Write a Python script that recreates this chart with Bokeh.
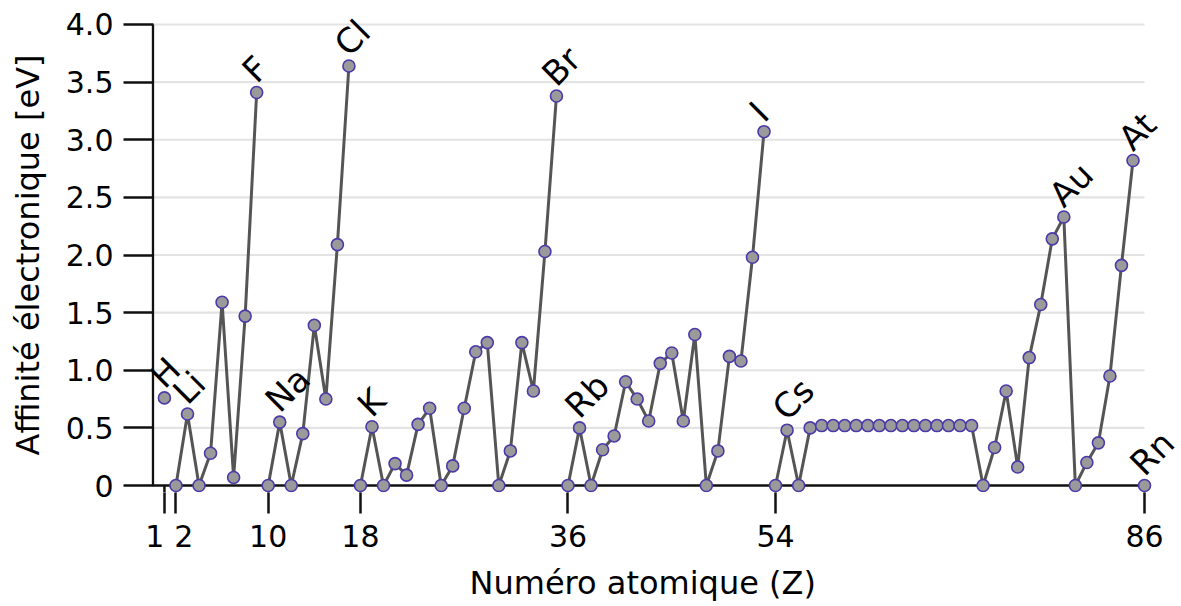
from bokeh.plotting import figure
from bokeh.models import ColumnDataSource, FixedTicker, LabelSet, Title, Range1d
from bokeh.core.properties import value
from bokeh.embed import file_html
from bokeh.resources import INLINE

# ---- data -------------------------------------------------------------
Z = list(range(1, 87))
EA = [
    0.76,                                                   # H
    0.00, 0.62, 0.00, 0.28, 1.59, 0.07, 1.47, 3.41,         # He..F
    0.00, 0.55, 0.00, 0.45, 1.39, 0.75, 2.09, 3.64,         # Ne..Cl
    0.00, 0.51, 0.00, 0.19, 0.09, 0.53, 0.67, 0.00, 0.17,   # Ar..Fe
    0.67, 1.16, 1.24, 0.00, 0.30, 1.24, 0.82, 2.03, 3.38,   # Co..Br
    0.00, 0.50, 0.00, 0.31, 0.43, 0.90, 0.75, 0.56, 1.06,   # Kr..Ru
    1.15, 0.56, 1.31, 0.00, 0.30, 1.12, 1.08, 1.98, 3.07,   # Rh..I
    0.00, 0.48, 0.00, 0.50,                                 # Xe..La
    0.52, 0.52, 0.52, 0.52, 0.52, 0.52, 0.52,               # Ce..Gd
    0.52, 0.52, 0.52, 0.52, 0.52, 0.52, 0.52,               # Tb..Lu
    0.00, 0.33, 0.82, 0.16, 1.11, 1.57, 2.14, 2.33,         # Hf..Au
    0.00, 0.20, 0.37, 0.95, 1.91, 2.82,                     # Hg..At
    0.00,                                                   # Rn
]
# last Z of each connected run (line breaks after these)
run_ends = [1, 9, 17, 35, 53, 85, 86]

label_symbols = ["H", "Li", "F", "Na", "Cl", "K", "Br", "Rb", "I", "Cs", "Au", "At", "Rn"]
label_Z = [1, 3, 9, 11, 17, 19, 35, 37, 53, 55, 79, 85, 86]

x_ticks = [1, 2, 10, 18, 36, 54, 86]
x_tick_labels = ["1", "2", "10", "18", "36", "54", "86"]
y_ticks = [0, 0.5, 1.0, 1.5, 2.0, 2.5, 3.0, 3.5, 4.0]
y_tick_labels = ["0", "0.5", "1.0", "1.5", "2.0", "2.5", "3.0", "3.5", "4.0"]

x_title = "Numéro atomique (Z)"
y_title = "Affinité électronique [eV]"

# ---- figure -----------------------------------------------------------
FONT = "DejaVu Sans"
NB = "\u00a0"
W, H = 1180, 606
x_lo, x_hi = -0.121, 89.12
y_lo, y_hi = -0.0607, 4.0607

p = figure(width=W, height=H,
           x_range=Range1d(x_lo, x_hi), y_range=Range1d(y_lo, y_hi),
           output_backend="svg", toolbar_location=None,
           min_border_left=151, min_border_right=0,
           min_border_top=17, min_border_bottom=114)
p.outline_line_color = None
p.xgrid.visible = False
p.ygrid.visible = False
p.background_fill_color = "white"
p.border_fill_color = "white"

x_end = Z[-1]
y_top = max(y_ticks)

# manual grid lines (from 0 to last Z)
grid_y = [v for v in y_ticks if v > 0]
p.segment(x0=[0] * len(grid_y), x1=[x_end] * len(grid_y), y0=grid_y, y1=grid_y,
          line_color="#e3e3e3", line_width=2.2)

# spines
p.segment(x0=[0], x1=[x_end], y0=[0], y1=[0], line_color="#111111", line_width=2.5)
p.segment(x0=[0], x1=[0], y0=[0], y1=[y_top], line_color="#111111", line_width=2.5)
# x tick stubs from spine to frame edge
p.segment(x0=x_ticks, x1=x_ticks, y0=[0] * len(x_ticks), y1=[y_lo] * len(x_ticks),
          line_color="#111111", line_width=2.5)

# connected runs
xs, ys = [], []
start = 1
for end in run_ends:
    xs.append(Z[start - 1:end])
    ys.append(EA[start - 1:end])
    start = end + 1
p.multi_line(xs=xs, ys=ys, line_color="#555555", line_width=3)

p.scatter(Z, EA, size=12, fill_color="#9a9a9a", line_color="#4a3aaa", line_width=1.6)

# element labels
lab_src = ColumnDataSource(dict(x=label_Z, y=[EA[z - 1] for z in label_Z], t=label_symbols))
labels = LabelSet(x="x", y="y", text="t", source=lab_src, angle=45, angle_units="deg",
                  x_offset=0, y_offset=8, text_align="left", text_baseline="alphabetic",
                  text_font=value(FONT), text_font_size=value("34px"), text_color="black")
p.add_layout(labels)

# axes
xa = p.xaxis[0]
xa.ticker = FixedTicker(ticks=x_ticks)
xlab = dict(zip(x_ticks, x_tick_labels))
xlab[1] = xlab[1] + NB + NB          # keep "1" and "2" apart as in the original
xlab[2] = NB + "\u2009" + xlab[2]
xa.major_label_overrides = xlab
xa.axis_line_color = None
xa.major_tick_in = 0
xa.major_tick_out = 21
xa.major_tick_line_width = 2.5
xa.major_tick_line_color = "#111111"
xa.minor_tick_line_color = None
xa.major_label_text_font = FONT
xa.major_label_text_font_size = "30px"
xa.major_label_text_color = "black"
xa.major_label_standoff = 5

# x title centred on the drawn axis (0..86) rather than on the whole frame
p.add_layout(Title(text=x_title, align="left", offset=318, standoff=10,
                   text_font=FONT, text_font_size="32px", text_font_style="normal",
                   text_color="black"), "below")

ya = p.yaxis[0]
ya.ticker = FixedTicker(ticks=y_ticks)
ya.major_label_overrides = {v: s for v, s in zip(y_ticks, y_tick_labels)}
ya.axis_line_color = None
ya.major_tick_in = 2
ya.major_tick_out = 28
ya.major_tick_line_width = 2.5
ya.major_tick_line_color = "#111111"
ya.minor_tick_line_color = None
ya.major_label_text_font = FONT
ya.major_label_text_font_size = "30px"
ya.major_label_text_color = "black"
ya.major_label_standoff = 10
ya.axis_label = y_title
ya.axis_label_text_font = FONT
ya.axis_label_text_font_size = "32px"
ya.axis_label_text_font_style = "normal"
ya.axis_label_text_color = "black"
ya.axis_label_standoff = 16

open("out.html", "w").write(file_html(p, INLINE))
